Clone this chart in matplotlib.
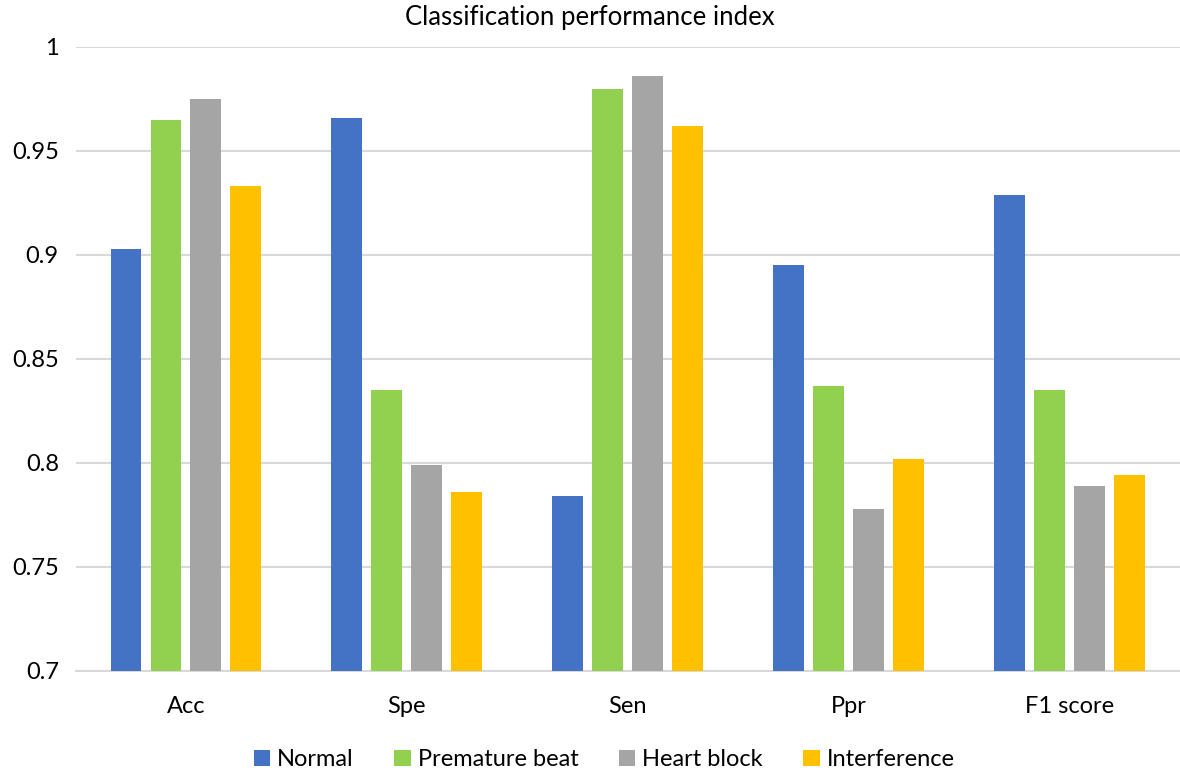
import numpy as np
import matplotlib.pyplot as plt

plt.rcParams['font.family'] = ['Lato', 'DejaVu Sans']

metrics = ['Acc', 'Spe', 'Sen', 'Ppr', 'F1 score']
classes = ['Normal', 'Premature beat', 'Heart block', 'Interference']
colors = ['#4472C4', '#92D050', '#A5A5A5', '#FFC000']

normal = [0.903, 0.966, 0.784, 0.895, 0.929]
premature = [0.965, 0.835, 0.980, 0.837, 0.835]
heart_block = [0.975, 0.799, 0.986, 0.778, 0.789]
interference = [0.933, 0.786, 0.962, 0.802, 0.794]

series = [normal, premature, heart_block, interference]

fig = plt.figure(figsize=(11.8, 7.7), dpi=100)
ax = fig.add_axes([0.064, 0.129, 0.936, 0.81])

x = np.arange(len(metrics))
pitch = 0.181
width = 0.14
for i, (vals, col, name) in enumerate(zip(series, colors, classes)):
    ax.bar(x + (i - 1.5) * pitch, vals, width, color=col, label=name,
           zorder=3)

ax.set_ylim(0.7, 1.0)
ax.set_xlim(-0.5, 4.5)
ax.set_yticks(np.arange(0.7, 1.001, 0.05))
ax.set_yticklabels(['0.7', '0.75', '0.8', '0.85', '0.9', '0.95', '1'])
ax.set_xticks(x)
ax.set_xticklabels(metrics)
ax.yaxis.grid(True, color='#d9d9d9', linewidth=1.5, zorder=0)
for s in ['top', 'right', 'left']:
    ax.spines[s].set_visible(False)
ax.spines['bottom'].set_color('#d9d9d9')
ax.spines['bottom'].set_linewidth(1.5)
ax.tick_params(axis='both', length=0, labelsize=17, colors='black')
ax.tick_params(axis='x', pad=18)
ax.tick_params(axis='y', pad=12)

# title is centred on the whole figure, not on the plot area
fig.text(0.5, 0.977, 'Classification performance index', fontsize=18.5,
         ha='center', va='center')

fig.legend(loc='lower center', bbox_to_anchor=(0.512, -0.028), ncol=4,
           frameon=False, fontsize=17, handlelength=0.7, handleheight=0.7,
           handletextpad=0.3, columnspacing=1.7)

fig.savefig('out.png', dpi=100)
